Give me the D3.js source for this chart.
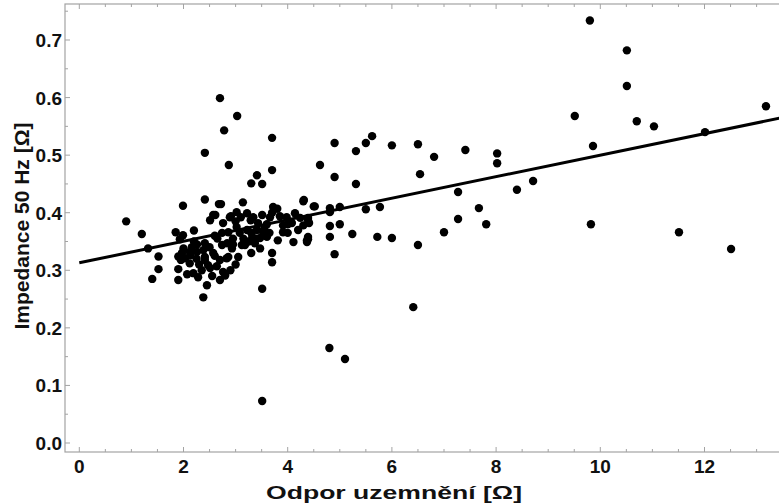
<!DOCTYPE html>
<html><head><meta charset="utf-8">
<script src="https://cdn.jsdelivr.net/npm/d3@7"></script>
<style>body{margin:0;background:#fff}svg{display:block}</style>
</head><body>
<svg id="c" width="779" height="503"></svg>
<script>
const resistance = [9.80,10.51,10.51,9.51,10.70,11.03,12.01,13.18,9.86,7.41,8.02,8.02,8.71,8.40,7.27,7.67,7.27,7.81,7.00,9.82,11.51,12.51,
5.62,5.50,4.90,6.00,6.50,6.81,5.31,4.62,4.90,5.31,6.54,4.31,4.50,4.81,5.00,5.50,5.77,4.81,4.81,5.00,5.24,4.81,5.72,6.00,6.50,4.90,4.39,4.37,4.11,4.41,4.39,6.41,4.80,5.10,3.51,3.51,
2.70,3.03,2.78,2.41,2.87,3.30,3.41,3.51,3.70,3.70,
2.41,2.68,1.99,3.14,0.90,1.20,1.85,2.20,1.99,1.93,2.51,2.61,2.91,3.02,3.22,3.29,3.43,1.32,1.52,1.52,1.40,1.90,1.97,1.95,1.90,1.90,2.07,2.19,2.28,2.12,2.03,2.26,2.12,2.41,2.45,2.38,2.00,2.13,2.38,2.41,2.47,2.51,2.64,2.57,2.70,2.76,2.80,2.70,2.86,2.93,3.05,3.12,2.84,2.74,2.41,2.16,2.26,3.72,4.30,4.52,2.72,2.89,3.34,3.51,3.66,3.85,3.98,4.14,4.24,4.39,2.76,2.74,2.86,3.02,3.08,3.22,3.32,3.41,3.47,3.53,3.37,3.18,3.47,3.60,3.81,3.91,4.00,4.37,4.39,3.70,3.70,2.83,4.30,4.08,3.91,2.57,3.60,3.55,3.65,3.40,3.30,3.15,3.25,2.95,2.60,2.50,2.60,2.30,2.35,2.25,3.00,3.10,3.70,3.80,4.20,4.00,3.30,3.00,2.90,2.55,2.95,2.65,2.20];
const impedance = [0.734,0.682,0.620,0.568,0.559,0.550,0.540,0.585,0.516,0.509,0.503,0.486,0.455,0.440,0.436,0.408,0.389,0.380,0.366,0.380,0.366,0.337,
0.533,0.521,0.521,0.517,0.519,0.497,0.507,0.483,0.462,0.450,0.467,0.422,0.411,0.408,0.410,0.406,0.410,0.401,0.377,0.380,0.363,0.358,0.358,0.356,0.344,0.328,0.354,0.349,0.349,0.382,0.387,0.236,0.165,0.146,0.073,0.268,
0.599,0.568,0.543,0.504,0.483,0.451,0.465,0.450,0.474,0.530,
0.423,0.415,0.412,0.418,0.385,0.363,0.366,0.369,0.361,0.354,0.387,0.396,0.394,0.401,0.399,0.387,0.382,0.338,0.324,0.302,0.285,0.324,0.330,0.318,0.302,0.283,0.293,0.295,0.288,0.312,0.321,0.332,0.332,0.323,0.274,0.253,0.338,0.326,0.335,0.318,0.309,0.304,0.307,0.330,0.318,0.297,0.291,0.283,0.323,0.338,0.323,0.344,0.347,0.344,0.347,0.340,0.345,0.410,0.420,0.411,0.415,0.392,0.392,0.396,0.392,0.394,0.392,0.399,0.391,0.391,0.382,0.365,0.366,0.375,0.365,0.370,0.358,0.370,0.356,0.365,0.347,0.344,0.338,0.358,0.352,0.366,0.365,0.352,0.358,0.330,0.314,0.321,0.378,0.382,0.378,0.396,0.380,0.372,0.365,0.355,0.365,0.355,0.350,0.355,0.360,0.340,0.325,0.310,0.300,0.320,0.385,0.392,0.400,0.407,0.370,0.380,0.330,0.310,0.300,0.290,0.345,0.355,0.350];
const fitX = [0, 13.8];
const fitY = [0.313, 0.571];
const xTicks = [0,2,4,6,8,10,12];
const yTicks = [0.0,0.1,0.2,0.3,0.4,0.5,0.6,0.7];
const xTitle = "Odpor uzemnění [Ω]";
const yTitle = "Impedance 50 Hz [Ω]";

(function(){
const svg = d3.select("#c");
const pl = 65, pr = 800, pt = 4, pb = 452;
const x = d3.scaleLinear().domain([0, 12]).range([79.3, 704.5]);
const y = d3.scaleLinear().domain([0, 0.7]).range([443, 40]);
const frameCol = "#a3a3a3";
const font = "'Liberation Sans', Arial, sans-serif";

svg.append("rect").attr("x", pl).attr("y", pt).attr("width", pr-pl).attr("height", pb-pt)
  .attr("fill", "none").attr("stroke", frameCol).attr("stroke-width", 1.2);

const xMinor = d3.range(0, 13.6, 0.5);
xMinor.forEach(v => {
  const major = Math.abs(v % 2) < 1e-9;
  const len = major ? 5 : 3;
  svg.append("line").attr("x1", x(v)).attr("x2", x(v)).attr("y1", pb).attr("y2", pb - len).attr("stroke", frameCol);
  svg.append("line").attr("x1", x(v)).attr("x2", x(v)).attr("y1", pt).attr("y2", pt + len).attr("stroke", frameCol);
});
const yMinor = d3.range(0, 0.76, 0.05);
yMinor.forEach(v => {
  const major = Math.abs(Math.round(v*10) - v*10) < 1e-6;
  const len = major ? 5 : 3;
  svg.append("line").attr("x1", pl).attr("x2", pl + len).attr("y1", y(v)).attr("y2", y(v)).attr("stroke", frameCol);
});

svg.append("g").selectAll("text").data(xTicks).join("text")
  .attr("x", d => x(d)).attr("y", 473).attr("text-anchor", "middle")
  .attr("font-family", font).attr("font-weight", "bold").attr("font-size", 19).attr("fill", "#111")
  .text(d => d);
svg.append("g").selectAll("text").data(yTicks).join("text")
  .attr("x", 62).attr("y", d => y(d) + 7).attr("text-anchor", "end")
  .attr("font-family", font).attr("font-weight", "bold").attr("font-size", 19).attr("fill", "#111")
  .text(d => d.toFixed(1));

svg.append("text").attr("x", 394).attr("y", 499).attr("text-anchor", "middle")
  .attr("font-family", font).attr("font-weight", "bold").attr("font-size", 19).attr("fill", "#111")
  .attr("textLength", 256).attr("lengthAdjust", "spacingAndGlyphs").text(xTitle);
svg.append("text").attr("transform", "translate(29,226) rotate(-90)").attr("text-anchor", "middle")
  .attr("font-family", font).attr("font-weight", "bold").attr("font-size", 21).attr("fill", "#111").text(yTitle);

const pts = resistance.map((r, i) => [r, impedance[i]]);
svg.append("g").selectAll("circle").data(pts).join("circle")
  .attr("cx", d => x(d[0])).attr("cy", d => y(d[1])).attr("r", 4.2).attr("fill", "#000");

svg.append("line").attr("x1", x(fitX[0])).attr("y1", y(fitY[0])).attr("x2", x(fitX[1])).attr("y2", y(fitY[1]))
  .attr("stroke", "#000").attr("stroke-width", 3);
})();
</script>
</body></html>
